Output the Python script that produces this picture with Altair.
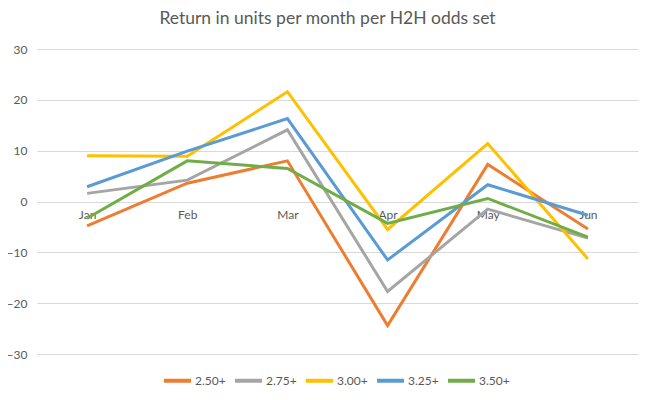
import altair as alt
import pandas as pd

months = ["Jan", "Feb", "Mar", "Apr", "May", "Jun"]
odds_sets = ["2.50+", "2.75+", "3.00+", "3.25+", "3.50+"]

# units returned per month
ret_250 = [-4.8, 3.6, 8.0, -24.4, 7.3, -5.4]
ret_275 = [1.6, 4.2, 14.1, -17.7, -1.5, -7.2]
ret_300 = [9.0, 8.9, 21.6, -5.5, 11.4, -11.3]
ret_325 = [2.9, 9.9, 16.3, -11.5, 3.3, -2.7]
ret_350 = [-3.3, 8.0, 6.5, -4.3, 0.6, -7.0]

colors = ["#ED7D31", "#A5A5A5", "#FFC000", "#5B9BD5", "#70AD47"]
y_ticks = [-30, -20, -10, 0, 10, 20, 30]

rows = []
for name, vals in zip(odds_sets, [ret_250, ret_275, ret_300, ret_325, ret_350]):
    for m, v in zip(months, vals):
        rows.append({"month": m, "odds": name, "units": v})
df = pd.DataFrame(rows)

font = "Lato"
grey = "#595959"

chart = alt.Chart(df).mark_line(strokeWidth=3).encode(
    x=alt.X("month:N", sort=months, title=None,
            scale=alt.Scale(type="point", padding=0.5),
            axis=alt.Axis(offset=-152.5, labelAngle=0, ticks=False, domain=False,
                          grid=False, labelPadding=8, labelFontSize=12,
                          labelColor=grey, labelFont=font)),
    y=alt.Y("units:Q", title=None,
            scale=alt.Scale(domain=[-30, 30], nice=False),
            axis=alt.Axis(values=y_ticks, ticks=False, domain=False,
                          gridColor="#D9D9D9", labelPadding=10, labelFontSize=12,
                          labelColor=grey, labelFont=font)),
    color=alt.Color("odds:N", sort=odds_sets,
                    scale=alt.Scale(domain=odds_sets, range=colors),
                    legend=alt.Legend(title=None, orient="none", direction="horizontal",
                                      legendX=125, legendY=316, symbolType="stroke",
                                      symbolSize=729, symbolStrokeWidth=4,
                                      labelFontSize=12, labelColor=grey, labelFont=font,
                                      labelOffset=2, columnPadding=1)),
).properties(
    width=601,
    height=305,
    title=alt.TitleParams("Return in units per month per H2H odds set",
                          fontSize=17.5, fontWeight="normal", color=grey,
                          font=font, anchor="middle", dx=-10, offset=16),
    autosize=alt.AutoSizeParams(type="none"),
    padding={"left": 29, "top": 41, "right": 8, "bottom": 36},
).configure_view(stroke=None)

chart.save("out.html", embed_options={"renderer": "svg", "actions": False})
